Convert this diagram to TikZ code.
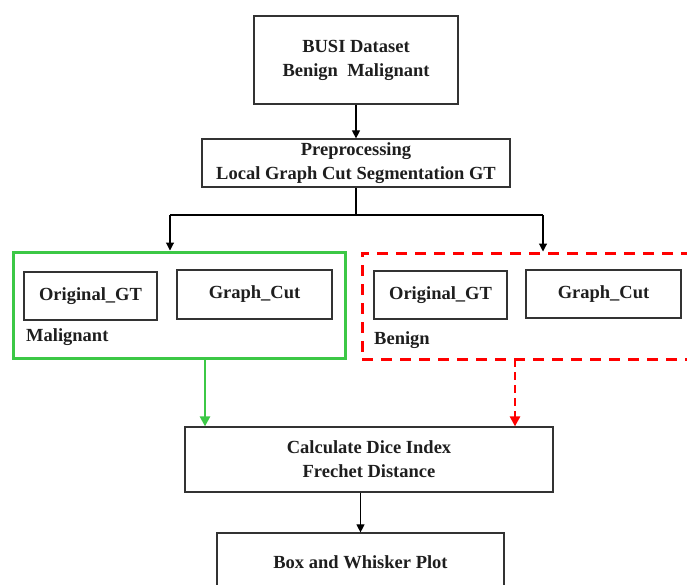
\documentclass[tikz,border=0pt]{standalone}
\usepackage{fontspec}
\setmainfont{Liberation Serif}[BoldFont={Liberation Serif Bold}]
\usetikzlibrary{arrows.meta}
\definecolor{txt}{RGB}{30,30,30}
\definecolor{grn}{RGB}{60,200,70}
\tikzset{
  box/.style={draw=black!80, line width=1.2pt, text=txt, font=\bfseries\fontsize{18.5}{24}\selectfont, align=center, inner sep=0pt},
  arr/.style={line width=1.1pt, -{Triangle[length=8pt,width=8pt]}},
  lbl/.style={text=txt, font=\bfseries\fontsize{18.5}{24}\selectfont, anchor=west, inner sep=0pt},
}
\begin{document}
\begin{tikzpicture}[x=1pt,y=-1pt]
\useasboundingbox (0,0) rectangle (687,584);
\clip (0,0) rectangle (687,584);
% top boxes
\node[box, minimum width=204pt, minimum height=88pt] (busi) at (356,60) {BUSI Dataset\\Benign~~Malignant};
\node[box, minimum width=308pt, minimum height=48pt] (pre) at (356,163) {Preprocessing\\Local Graph Cut Segmentation GT};
\draw[arr] (busi.south) -- (pre.north);
% groups
\node[draw=grn, line width=3pt, minimum width=332pt, minimum height=106pt, inner sep=0pt] (mal) at (179,305) {};
\node[draw=red, line width=3pt, dash pattern=on 11pt off 8pt, minimum width=340pt, minimum height=106pt, inner sep=0pt] (ben) at (532,306) {};
\node[box, minimum width=133pt, minimum height=48pt] (mo) at (90.5,296) {Original\_GT};
\node[box, minimum width=155pt, minimum height=49pt] (mg) at (254.5,294.5) {Graph\_Cut};
\node[lbl] (ml) at (26,337) {Malignant};
\node[box, minimum width=133pt, minimum height=48pt] (bo) at (440.5,295) {Original\_GT};
\node[box, minimum width=155pt, minimum height=48pt] (bg) at (603.5,294) {Graph\_Cut};
\node[lbl] (bl) at (374,340) {Benign};
% split
\coordinate (j) at (356,215);
\coordinate (jl) at (170,215);
\coordinate (jr) at (543,215);
\draw[line width=1.1pt] (pre.south) -- (j);
\draw[line width=1.1pt] (jl) -- (jr);
\draw[arr] (jl) -- (jl |- mal.north);
\draw[arr] (jr) -- (jr |- ben.north);
% calc
\node[box, minimum width=368pt, minimum height=65pt] (calc) at (369,459.5) {Calculate Dice Index\\Frechet Distance};
\node[box, minimum width=287pt, minimum height=90pt] (bw) at (360.5,578) {};
\node[text=txt, font=\bfseries\fontsize{18.5}{24}\selectfont, inner sep=0pt] (bwt) at (360.5,562) {Box and Whisker Plot};
\coordinate (gs) at (205,358);
\coordinate (rs) at (515,359);
\draw[line width=2.6pt, draw=grn, -{Triangle[length=10pt,width=10pt]}] (gs) -- (gs |- calc.north);
\draw[line width=2.6pt, draw=red, dash pattern=on 8pt off 5pt, -{Triangle[length=10pt,width=10pt]}] (rs) -- (rs |- calc.north);
\draw[arr] (calc.south -| bwt) -- (bw.north -| bwt);
\end{tikzpicture}
\end{document}
